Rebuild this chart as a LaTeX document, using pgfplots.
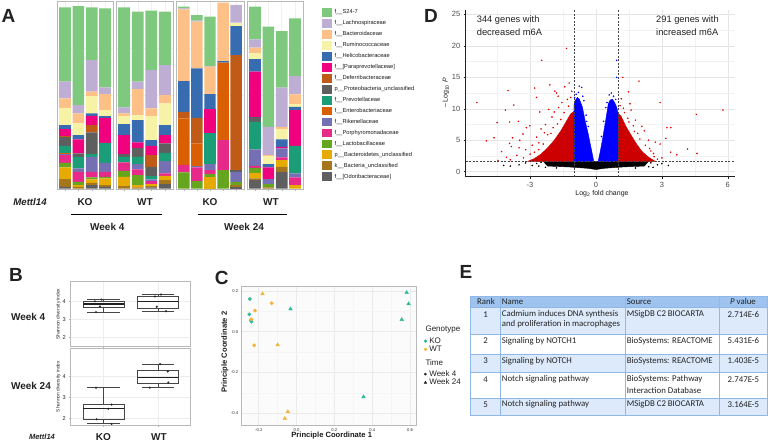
\documentclass[border=0pt]{standalone}
\usepackage{fontspec}
\setmainfont{Liberation Sans}
\newfontfamily\calib{Carlito}
\usepackage{pgfplots}
\usepackage{pgfplotstable}
\pgfplotsset{compat=1.18}
\usepgfplotslibrary{statistics}

\newcommand\fs[1]{\fontsize{#1}{#1}\selectfont}

% taxa palette (Accent + Dark2)
\definecolor{cod}{HTML}{5F5F5F}
\definecolor{cbu}{HTML}{A6761D}
\definecolor{cbd}{HTML}{E6AB02}
\definecolor{cla}{HTML}{66A61E}
\definecolor{cpo}{HTML}{E7298A}
\definecolor{cri}{HTML}{7570B3}
\definecolor{cen}{HTML}{D95F02}
\definecolor{cpr}{HTML}{1B9E77}
\definecolor{cpu}{HTML}{5F5F5F}
\definecolor{cde}{HTML}{BF5B17}
\definecolor{cpa}{HTML}{F0027F}
\definecolor{che}{HTML}{386CB0}
\definecolor{cru}{HTML}{F6F3A6}
\definecolor{cba}{HTML}{FDC086}
\definecolor{clc}{HTML}{BEAED4}
\definecolor{cs2}{HTML}{7FC97F}
\definecolor{cKO}{HTML}{33B99A}
\definecolor{cWT}{HTML}{F3B33A}
\definecolor{thead}{HTML}{9DC3EE}
\definecolor{trow}{HTML}{DCEAFB}
\definecolor{tline}{HTML}{8FB8E6}
\definecolor{ink}{HTML}{222222}

% panel A: segment heights per bar, bottom taxon first
\pgfplotstableread{
n od bu bd la po ri en pr pu de pa he ru ba lc s2
1 5 23 35 14 23 3 2 23 26 3 21 12 52 28 50 223
2 0 5 5 10 30 10 0 35 10 0 42 13 35 30 25 297
3 10 7 10 6 17 45 0 8 65 22 28 7 52 13 95 158
4 5 5 20 5 15 27 0 60 0 0 75 5 18 48 20 237
}\tabAa
\pgfplotstableread{
n od bu bd la po ri en pr pu de pa he ru ba lc s2
1 0 7 28 18 25 0 0 17 8 0 57 33 25 7 18 300
2 0 3 7 30 17 16 0 22 27 0 16 67 15 78 22 210
3 3 4 6 0 9 5 0 10 28 35 28 17 72 23 115 178
4 13 12 13 0 7 37 0 25 28 0 25 30 65 25 90 160
}\tabAb
\pgfplotstableread{
n od bu bd la po ri en pr pu de pa he ru ba lc s2
1 0 0 0 48 22 0 140 0 0 20 0 92 0 215 3 5
2 0 0 0 22 41 4 68 0 0 77 0 148 0 140 3 17
3 0 0 33 10 12 18 0 92 0 0 73 45 0 82 2 148
4 0 0 0 55 90 0 232 0 0 0 0 5 0 175 0 0
5 5 5 0 10 0 30 0 0 5 345 0 87 10 0 53 0
}\tabAc
\pgfplotstableread{
n od bu bd la po ri en pr pu de pa he ru ba lc s2
1 25 5 17 15 5 50 0 83 15 0 135 38 17 17 25 98
2 0 3 0 10 0 15 0 0 0 0 35 10 24 3 85 300
3 50 15 20 0 8 27 0 0 0 0 5 22 31 7 117 170
4 0 0 10 0 23 12 0 83 0 0 107 10 8 29 55 173
}\tabAd

\newcommand\stackA[1]{\pgfplotsinvokeforeach{od,bu,bd,la,po,ri,en,pr,pu,de,pa,he,ru,ba,lc,s2}{\addplot[fill=c##1,draw=none] table[x=n,y=##1]{#1};}}

\pgfplotsset{
 facetA/.style={scale only axis,anchor=south west,height=188.5pt,ybar stacked,bar width=0.875,
  ymin=-3,ymax=562,xmin=0.4,axis line style={gray!55,line width=0.5pt},
  xtick={1,...,5},xticklabels={},ytick={140,280,420},yticklabels={},
  xmajorgrids,ymajorgrids,grid style={gray!12,line width=0.4pt},
  tick align=outside,major tick length=1.5pt,ytick style={draw=none},
  xtick style={gray!60},xtick pos=lower},
 facetB/.style={scale only axis,anchor=south west,width=120pt,xmin=0.4,xmax=2.6,
  xtick={1,2},xticklabels={},ytick={2,3,4},axis line style={gray!55,line width=0.5pt},
  grid=major,grid style={gray!14,line width=0.4pt},tick align=outside,major tick length=1.5pt,
  tick style={gray!60},xtick pos=lower,ytick pos=left,
  ticklabel style={font=\fs{5.6},text=gray!30!black},
  /pgf/number format/assume math mode=true,
  boxplot/draw direction=y,boxplot/box extend=0.75,
  boxplot/every median/.style={line width=1.1pt,draw=gray!25!black}},
 boxst/.style={draw=gray!55!black,line width=0.45pt},
 pts/.style={only marks,mark=*,mark size=0.8pt,gray!25!black}
}

\begin{document}
\begin{tikzpicture}
\useasboundingbox (0pt,0pt) rectangle (768pt,-444pt);

% ---------------- A ----------------
\begin{axis}[facetA,at={(57pt,-189.5pt)},width=56pt,xmax=4.6]
\stackA{\tabAa}
\end{axis}
\begin{axis}[facetA,at={(116pt,-189.5pt)},width=57pt,xmax=4.6]
\stackA{\tabAb}
\end{axis}
\begin{axis}[facetA,at={(176pt,-189.5pt)},width=68pt,xmax=5.6]
\stackA{\tabAc}
\end{axis}
\begin{axis}[facetA,at={(247pt,-189.5pt)},width=56pt,xmax=4.6]
\stackA{\tabAd}
\end{axis}

% ---------------- D ----------------
\begin{axis}[scale only axis,at={(465.7pt,-176.7pt)},anchor=south west,width=269.3pt,height=166.7pt,
 xmin=-5.93,xmax=6.33,ymin=-0.79,ymax=25.7,
 axis x line*=bottom,axis y line*=left,axis line style={gray!25!black,line width=0.6pt,-},
 xtick={-3,0,3,6},ytick={0,5,...,25},minor xtick={-4.5,-1.5,1.5,4.5},minor ytick={2.5,7.5,...,22.5},
 grid=both,major grid style={gray!20,line width=0.5pt},minor grid style={gray!10,line width=0.4pt},
 tick align=outside,major tick length=2pt,minor tick length=0pt,tick style={gray!25!black,line width=0.5pt},
 ticklabel style={font=\fs{7.5},text=gray!60!black},
 /pgf/number format/assume math mode=true]
% not significant
\addplot[fill=black,draw=black,line width=0.4pt] coordinates {(-2.4,1.65)(2.4,1.65)(2.2,0.9)(1.2,0.75)(0.4,0.55)(0,0.35)(-0.4,0.55)(-1.2,0.75)(-2.2,0.9)} -- cycle;
\addplot[only marks,mark=*,mark size=0.55pt,black] coordinates {(-3.5,1.1)(-3.2,1.4)(-2.9,1.0)(-2.7,1.3)(-2.5,1.5)(-4.2,1.0)(2.5,1.4)(2.8,1.1)(3.0,1.3)(3.3,1.0)(-2.3,0.7)(2.4,0.8)(-3.9,0.9)(-2.6,0.9)(2.6,0.7)(-1.8,0.6)(1.8,0.6)};
% significant, large fold change
\addplot[fill=red!80!black,draw=red!80!black,line width=0.4pt] coordinates {(-1,1.65)(-1,9.6)(-1.15,9.2)(-1.35,8)(-1.6,6.5)(-1.9,5)(-2.2,3.8)(-2.5,2.8)(-2.8,2.1)(-3.1,1.65)} -- cycle;
\addplot[fill=red!80!black,draw=red!80!black,line width=0.4pt] coordinates {(1,1.65)(1,9.3)(1.15,8.8)(1.35,7.3)(1.6,5.8)(1.85,4.4)(2.1,3.2)(2.4,2.3)(2.7,1.65)} -- cycle;
\addplot[only marks,mark=*,mark size=0.55pt,red!90!black] coordinates {
(-5.42,11.0)(-4.99,4.9)(-4.64,5.4)(-4.5,7.8)(-4.46,1.8)(-4.12,9.8)(-4.0,12.9)(-4.08,2.3)(-3.93,4.5)(-3.85,4.0)
(-3.74,10.6)(-3.8,5.4)(-3.93,7.9)(-3.53,8.0)(-3.47,5.0)(-3.5,3.8)(-3.32,6.0)(-3.17,7.0)(-3.01,7.3)(-2.79,13.3)
(-2.71,11.8)(-2.56,9.5)(-2.47,17.7)(-2.1,13.8)(-1.87,12.8)(-1.8,12.5)(-1.72,12.0)(-1.34,19.6)(-1.22,14.1)(-1.42,13.5)
(-1.1,12.8)(-2.9,4.2)(-2.7,5.5)(-2.5,6.8)(-2.3,7.5)(-2.2,5.9)(-2.0,8.7)(-1.9,9.5)(-1.7,10.2)(-1.55,11)
(-1.3,11.5)(-1.15,11.8)(-2.4,4.4)(-2.6,3.5)(-3.0,2.8)(-3.3,2.2)(-3.6,2.6)(-2.8,3.1)(-2.15,9.9)(-1.6,8.3)
(-3.2,3.5)(-4.3,3.2)(-3.9,1.9)(-2.35,6.2)(-1.95,7.0)(-1.25,10.4)(-1.45,9.4)(-1.75,7.6)(-2.05,6.1)(-2.6,4.6)
(1.22,15.0)(1.96,14.4)(1.48,12.7)(1.55,10.8)(2.09,7.2)(2.92,11.0)(3.23,7.0)(3.41,7.0)(3.18,5.3)(2.92,4.4)
(3.68,2.7)(4.17,3.6)(4.6,2.9)(4.57,9.1)(5.78,9.8)(2.62,2.9)(2.44,3.7)(2.39,5.0)(2.16,2.4)(2.65,2.4)
(1.1,10.5)(1.3,9.4)(1.45,8.5)(1.7,7.3)(1.9,6.1)(2.0,5.2)(2.25,4.2)(2.5,3.3)(2.8,2.0)(3.0,2.2)
(1.15,11.6)(1.6,9.8)(2.2,6.5)(1.8,8.2)(2.3,1.9)(3.4,3.1)(2.7,4.7)(1.25,10.1)(1.5,7.9)(1.75,6.4)};
% significant, small fold change
\addplot[fill=blue,draw=blue,line width=0.4pt] coordinates {(-1,1.65)(-1,10.6)(-0.95,11.3)(-0.85,11.8)(-0.75,11.5)(-0.62,10.3)(-0.5,8.2)(-0.35,6.0)(-0.2,3.4)(-0.1,1.65)} -- cycle;
\addplot[fill=blue,draw=blue,line width=0.4pt] coordinates {(0.1,1.65)(0.2,3.3)(0.3,5.2)(0.4,7.3)(0.5,9.4)(0.56,10.8)(0.65,11.4)(0.75,11.5)(0.85,11.0)(0.95,10.2)(1,9.3)(1,1.65)} -- cycle;
\addplot[only marks,mark=*,mark size=0.55pt,blue] coordinates {
(-0.76,13.6)(-0.65,13.4)(-0.9,12.3)(-0.8,12.6)(-0.55,11.3)(-0.6,12.0)(-0.45,9.0)(-0.35,7.2)(-0.97,11.8)(-0.42,8.0)
(0.94,17.7)(0.94,15.0)(0.6,12.2)(0.7,12.5)(0.8,12.0)(0.45,10.2)(0.35,8.0)(0.9,11.5)(0.25,5.6)(0.5,11.0)};
% thresholds
\addplot[gray!55!black,line width=0.5pt,dash pattern=on 2pt off 1.5pt] coordinates {(-1,-0.79)(-1,25.7)};
\addplot[gray!55!black,line width=0.5pt,dash pattern=on 2pt off 1.5pt] coordinates {(1,-0.79)(1,25.7)};
\addplot[gray!55!black,line width=0.5pt,dash pattern=on 2pt off 1.5pt] coordinates {(-5.93,1.6)(6.33,1.6)};
\end{axis}

% ---------------- B ----------------
\begin{axis}[facetB,at={(70.7pt,-346.7pt)},height=65pt,ymin=1.48,ymax=5.09]
\addplot[boxst,boxplot prepared={draw position=1,median=3.85,lower quartile=3.65,upper quartile=4.02,lower whisker=3.4,upper whisker=4.1}] coordinates {};
\addplot[boxst,boxplot prepared={draw position=2,median=4.0,lower quartile=3.63,upper quartile=4.28,lower whisker=3.45,upper whisker=4.38}] coordinates {};
\addplot[pts] coordinates {(0.845,4.0)(0.968,4.1)(0.937,3.72)(0.864,3.4)(1.945,4.27)(2.055,4.38)(1.977,3.7)(2.147,3.45)};
\end{axis}
\begin{axis}[facetB,at={(70.7pt,-425pt)},height=76.7pt,ymin=1.68,ymax=5.32]
\addplot[boxst,boxplot prepared={draw position=1,median=2.45,lower quartile=1.95,upper quartile=2.65,lower whisker=1.75,upper whisker=3.45}] coordinates {};
\addplot[boxst,boxplot prepared={draw position=2,median=3.95,lower quartile=3.65,upper quartile=4.3,lower whisker=3.45,upper whisker=4.57}] coordinates {};
\addplot[pts] coordinates {(0.864,3.45)(1.15,2.65)(1.09,2.45)(0.877,1.95)(1.15,1.73)(2.04,4.57)(2.18,4.22)(2.19,3.7)(1.85,3.45)};
\end{axis}

% ---------------- C ----------------
\begin{axis}[scale only axis,at={(241.7pt,-425pt)},anchor=south west,width=175pt,height=138.3pt,
 xmin=-0.29,xmax=0.635,ymin=-0.457,ymax=0.22,
 xtick={-0.2,0,0.2,0.4,0.6},ytick={-0.4,-0.2,0,0.2},minor x tick num=1,minor y tick num=1,
 grid=both,major grid style={gray!16,line width=0.5pt},minor grid style={gray!8,line width=0.4pt},
 axis background/.style={fill=gray!3},axis line style={gray!55,line width=0.5pt},
 tick style={draw=none},ticklabel style={font=\fs{4.2},text=gray!40!black},
 /pgf/number format/.cd,fixed,fixed zerofill,precision=1,assume math mode=true,/pgfplots/.cd,
 legend style={draw=none,fill=none,at={(1.0,0.64)},anchor=north west,font=\fs{8},
  inner sep=0pt,row sep=-0.6pt,nodes={inner sep=0.9pt,text=ink},
  /tikz/every odd column/.append style={column sep=1.5pt}},
 legend cell align=left]
\addplot[forget plot,only marks,mark=*,mark size=1.7pt,cKO] coordinates {(-0.247,0.16)(-0.25,0.085)(-0.238,0.049)(-0.242,0.056)};
\addplot[forget plot,only marks,mark=*,mark size=1.7pt,cWT] coordinates {(-0.22,0.103)(-0.238,0.06)(-0.224,-0.067)(-0.132,0.139)};
\addplot[forget plot,only marks,mark=triangle*,mark size=2.1pt,cKO] coordinates {(-0.032,0.111)(0.582,0.191)(0.592,0.136)(0.556,0.059)(0.354,-0.319)};
\addplot[forget plot,only marks,mark=triangle*,mark size=2.1pt,cWT] coordinates {(-0.18,0.185)(-0.1,-0.065)(-0.046,-0.392)(-0.062,-0.425)};
\addlegendimage{only marks,mark=*,mark size=1.5pt,cKO}\addlegendentry{KO}
\addlegendimage{only marks,mark=*,mark size=1.5pt,cWT}\addlegendentry{WT}
\addlegendimage{empty legend}\addlegendentry{\vphantom{W}}
\addlegendimage{empty legend}\addlegendentry{\vphantom{W}}
\addlegendimage{only marks,mark=*,mark size=1.1pt,gray!25!black}\addlegendentry{Week 4}
\addlegendimage{only marks,mark=triangle*,mark size=1.5pt,gray!25!black}\addlegendentry{Week 24}
\end{axis}

\begin{scope}[x=1pt,y=-1pt,text=ink]
% panel letters
\node[font=\fs{19}\bfseries] at (8.5,15.5) {A};
\node[font=\fs{19}\bfseries] at (431,16) {D};
\node[font=\fs{19}\bfseries] at (16,275) {B};
\node[font=\fs{19}\bfseries] at (221.7,278) {C};
\node[font=\fs{19}\bfseries] at (466,272) {E};

% A legend
\foreach \c/\t [count=\i from 0] in {cs2/{f\_\_S24-7},clc/{f\_\_Lachnospiraceae},cba/{f\_\_Bacteroidaceae},cru/{f\_\_Ruminococcaceae},che/{f\_\_Helicobacteraceae},cpa/{f\_\_[Paraprevotellaceae]},cde/{f\_\_Deferribacteraceae},cpu/{p\_\_Proteobacteria\_unclassified},cpr/{f\_\_Prevotellaceae},cen/{f\_\_Enterobacteriaceae},cri/{f\_\_Rikenellaceae},cpo/{f\_\_Porphyromonadaceae},cla/{f\_\_Lactobacillaceae},cbd/{p\_\_Bacteroidetes\_unclassified},cbu/{k\_\_Bacteria\_unclassified},cod/{f\_\_[Odoribacteraceae]}}{
 \fill[\c] (321.7,{12.5+10.95*\i-4.4}) rectangle (331.7,{12.5+10.95*\i+4.4});
 \node[anchor=west,font=\fs{5.7},inner sep=0pt,text=gray!20!black] at (334.5,{12.5+10.95*\i}) {\t};
}
% A labels
\node[font=\fs{9.7}\bfseries\itshape] at (30,201.7) {Mettl14};
\foreach \x/\t in {85/KO,145/WT,210/KO,271/WT}{\node[font=\fs{10}\bfseries] at (\x,201.7) {\t};}
\draw[line width=0.9pt] (71,214) -- (161.7,214);
\draw[line width=0.9pt] (198.3,214) -- (287.3,214);
\node[font=\fs{10}\bfseries] at (107.3,227) {Week 4};
\node[font=\fs{10}\bfseries] at (244,227) {Week 24};

% D texts
\node[anchor=west,font=\fs{9.3},inner sep=0pt] at (476.7,20) {344 genes with};
\node[anchor=west,font=\fs{9.3},inner sep=0pt] at (476.7,32.3) {decreased m6A};
\node[anchor=west,font=\fs{9.3},inner sep=0pt] at (656,20) {291 genes with};
\node[anchor=west,font=\fs{9.3},inner sep=0pt] at (656,32.3) {increased m6A};
\node[font=\fs{7},text=gray!20!black] at (602,193.3) {Log\textsubscript{2} fold change};
\node[font=\fs{7},text=gray!20!black,rotate=90] at (446,93) {–\,Log\textsubscript{10} \textit{P}};

% B labels
\node[font=\fs{4.8},rotate=90,text=gray!30!black] at (58.3,314.2) {Shannon diversity index};
\node[font=\fs{4.8},rotate=90,text=gray!30!black] at (58.3,386.7) {Shannon diversity index};
\node[anchor=west,font=\fs{10}\bfseries] at (7.5,316.7) {Week 4};
\node[anchor=west,font=\fs{10}\bfseries] at (7.5,385.7) {Week 24};
\node[font=\fs{7.5}\bfseries\itshape] at (42,436.7) {Mettl14};
\node[font=\fs{10}\bfseries] at (103.3,436.7) {KO};
\node[font=\fs{10}\bfseries] at (159,436.7) {WT};

% C labels
\node[font=\fs{7.6}\bfseries,text=gray!20!black] at (331.7,435.7) {Principle Coordinate 1};
\node[font=\fs{7.6}\bfseries,text=gray!20!black,rotate=90] at (225,352) {Principle Coordinate 2};
\node[anchor=west,font=\fs{8}] at (422,330) {Genotype};
\node[anchor=west,font=\fs{8}] at (422,362.7) {Time};

% E table
\fill[thead] (470,296) rectangle (767.5,307.3);
\fill[trow] (470,307.3) rectangle (767.5,334.3);
\fill[trow] (470,354.3) rectangle (767.5,372.7);
\fill[trow] (470,398.3) rectangle (767.5,415);
\foreach \y in {296,307.3,334.3,354.3,372.7,398.3,415}{\draw[tline,line width=0.6pt] (470,\y) -- (767.5,\y);}
\foreach \x in {470,500,625,719.3,767.5}{\draw[tline,line width=0.6pt] (\x,296) -- (\x,415);}
\begin{scope}[every node/.style={font=\calib\fs{8.8},inner sep=0pt,text=ink}]
\node at (486,301.7) {Rank};
\node[anchor=west] at (501.7,301.7) {Name};
\node[anchor=west] at (626.7,301.7) {Source};
\node at (743,301.7) {\textit{P} value};
\foreach \y/\r/\n/\s/\p in {314.3/1/{Cadmium induces DNA synthesis}/{MSigDB C2 BIOCARTA}/2.714E-6,
  340.7/2/{Signaling by NOTCH1}/{BioSystems: REACTOME}/5.431E-6,
  360.7/3/{Signaling by NOTCH}/{BioSystems: REACTOME}/1.403E-5,
  379.3/4/{Notch signaling pathway}/{BioSystems: Pathway}/2.747E-5,
  404.3/5/{Notch signaling pathway}/{MSigDB C2 BIOCARTA}/3.164E-5}{
 \node at (485.7,\y) {\r};
 \node[anchor=west] at (501.7,\y) {\n};
 \node[anchor=west] at (626.7,\y) {\s};
 \node[anchor=east] at (759.3,\y) {\p};
}
\node[anchor=west] at (501.7,324.3) {and proliferation in macrophages};
\node[anchor=west] at (626.7,390) {Interaction Database};
\end{scope}
\end{scope}
\end{tikzpicture}
\end{document}
